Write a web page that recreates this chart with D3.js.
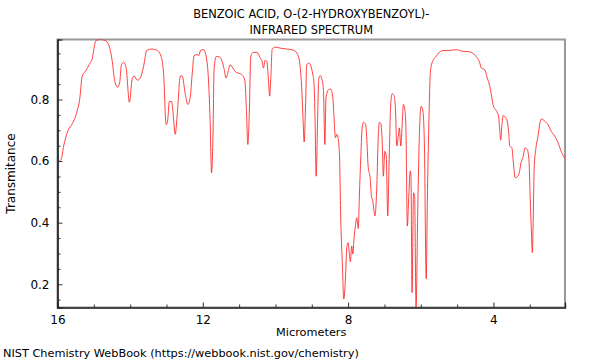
<!DOCTYPE html>
<html>
<head>
<meta charset="utf-8">
<script src="https://cdn.jsdelivr.net/npm/d3@7"></script>
<style>
  body { margin: 0; background: #fff; }
  svg { display: block; font-family: "DejaVu Sans", sans-serif; }
</style>
</head>
<body>
<div id="chart"></div>
<script>
// spectrum: wavelength (micrometers) and transmittance
const wavelength = [
  16.00, 15.90, 15.83, 15.72, 15.59, 15.46, 15.39, 15.32, 15.23, 15.13, 15.04, 15.01, 14.94, 14.82, 14.69,
  14.59, 14.50, 14.43, 14.35, 14.29, 14.24, 14.18, 14.11, 14.02, 13.94, 13.89, 13.80, 13.72, 13.63, 13.54,
  13.40, 13.26, 13.15, 13.08, 13.01, 12.97, 12.92, 12.86, 12.82, 12.76, 12.70, 12.62, 12.57, 12.48, 12.41,
  12.35, 12.29, 12.24, 12.15, 12.11, 12.06, 11.98, 11.93, 11.85, 11.80, 11.76, 11.72, 11.69, 11.63, 11.54,
  11.47, 11.41, 11.36, 11.30, 11.25, 11.17, 11.08, 10.97, 10.90, 10.84, 10.80, 10.76, 10.72, 10.68, 10.61,
  10.51, 10.42, 10.37, 10.33, 10.29, 10.24, 10.20, 10.16, 10.13, 10.09, 10.01, 9.87, 9.69, 9.50, 9.41,
  9.34, 9.28, 9.24, 9.21, 9.17, 9.14, 9.08, 9.03, 8.97, 8.94, 8.91, 8.88, 8.84, 8.81, 8.77,
  8.72, 8.68, 8.64, 8.61, 8.54, 8.48, 8.42, 8.39, 8.35, 8.31, 8.28, 8.24, 8.20, 8.16, 8.12,
  8.07, 8.04, 8.00, 7.96, 7.94, 7.90, 7.87, 7.84, 7.80, 7.76, 7.72, 7.69, 7.65, 7.61, 7.58,
  7.52, 7.49, 7.45, 7.39, 7.36, 7.32, 7.28, 7.26, 7.21, 7.17, 7.14, 7.10, 7.06, 7.03, 6.99,
  6.95, 6.91, 6.87, 6.83, 6.79, 6.73, 6.70, 6.66, 6.62, 6.59, 6.55, 6.51, 6.48, 6.44, 6.41,
  6.37, 6.33, 6.29, 6.27, 6.24, 6.20, 6.17, 6.13, 6.08, 6.04, 5.99, 5.94, 5.90, 5.85, 5.82,
  5.78, 5.73, 5.65, 5.58, 5.49, 5.39, 5.28, 5.01, 4.87, 4.73, 4.60, 4.48, 4.39, 4.33, 4.24,
  4.17, 4.10, 4.05, 4.00, 3.93, 3.86, 3.83, 3.80, 3.77, 3.73, 3.68, 3.62, 3.58, 3.55, 3.49,
  3.46, 3.40, 3.33, 3.29, 3.24, 3.18, 3.13, 3.07, 3.02, 2.99, 2.95, 2.93, 2.90, 2.88, 2.83,
  2.78, 2.72, 2.68, 2.59, 2.50, 2.41, 2.31, 2.22, 2.12, 2.02
];
const transmittance = [
  0.597, 0.605, 0.649, 0.697, 0.722, 0.762, 0.800, 0.876, 0.892, 0.913, 0.935, 0.956, 0.992, 0.995, 0.992,
  0.978, 0.930, 0.865, 0.840, 0.854, 0.913, 0.921, 0.902, 0.791, 0.870, 0.876, 0.863, 0.870, 0.908, 0.960,
  0.964, 0.960, 0.940, 0.886, 0.719, 0.730, 0.794, 0.794, 0.757, 0.687, 0.757, 0.876, 0.877, 0.816, 0.784,
  0.805, 0.886, 0.943, 0.946, 0.943, 0.960, 0.962, 0.951, 0.876, 0.735, 0.562, 0.681, 0.897, 0.940, 0.938,
  0.924, 0.897, 0.870, 0.892, 0.913, 0.902, 0.888, 0.884, 0.878, 0.859, 0.768, 0.654, 0.757, 0.940, 0.953,
  0.953, 0.935, 0.924, 0.902, 0.927, 0.924, 0.876, 0.811, 0.865, 0.964, 0.970, 0.967, 0.964, 0.960, 0.951,
  0.924, 0.843, 0.735, 0.662, 0.789, 0.913, 0.919, 0.910, 0.880, 0.854, 0.735, 0.551, 0.735, 0.865, 0.878,
  0.865, 0.832, 0.654, 0.805, 0.832, 0.834, 0.805, 0.746, 0.676, 0.687, 0.676, 0.627, 0.400, 0.270, 0.152,
  0.227, 0.314, 0.335, 0.292, 0.273, 0.324, 0.298, 0.346, 0.389, 0.416, 0.381, 0.487, 0.616, 0.713, 0.726,
  0.719, 0.681, 0.584, 0.541, 0.487, 0.470, 0.432, 0.422, 0.519, 0.681, 0.726, 0.722, 0.659, 0.551, 0.632,
  0.616, 0.422, 0.606, 0.778, 0.819, 0.811, 0.778, 0.649, 0.681, 0.708, 0.649, 0.724, 0.784, 0.768, 0.713,
  0.389, 0.487, 0.568, 0.551, 0.173, 0.497, 0.487, 0.125, 0.465, 0.681, 0.778, 0.762, 0.649, 0.218, 0.465,
  0.713, 0.897, 0.930, 0.940, 0.953, 0.959, 0.959, 0.962, 0.957, 0.956, 0.953, 0.940, 0.924, 0.902, 0.897,
  0.870, 0.843, 0.811, 0.778, 0.765, 0.746, 0.708, 0.668, 0.713, 0.748, 0.744, 0.730, 0.692, 0.649, 0.643,
  0.606, 0.546, 0.551, 0.562, 0.595, 0.616, 0.643, 0.638, 0.600, 0.487, 0.357, 0.303, 0.443, 0.573, 0.643,
  0.676, 0.724, 0.737, 0.730, 0.719, 0.697, 0.681, 0.659, 0.627, 0.607
];
const xTicks = [16, 12, 8, 4];
const yTicks = [0.2, 0.4, 0.6, 0.8];
const titleLines = ['BENZOIC ACID, O-(2-HYDROXYBENZOYL)-', 'INFRARED SPECTRUM'];

const width = 600, height = 360;
const margin = { top: 39.5, right: 35, bottom: 52.5, left: 57.5 };
const plotW = width - margin.left - margin.right;
const plotH = height - margin.top - margin.bottom;

const points = wavelength.map((w, i) => ({ w, t: transmittance[i] }));

const svg = d3.select('#chart').append('svg')
  .attr('width', width)
  .attr('height', height);

const x = d3.scaleLinear().domain([16, 2.03]).range([0, plotW]);
const y = d3.scaleLinear().domain([0.1245, 0.995]).range([plotH, 0]);

// title
svg.append('g').selectAll('text')
  .data(titleLines)
  .enter().append('text')
  .attr('x', margin.left + plotW / 2)
  .attr('y', (d, i) => 18 + i * 16)
  .attr('text-anchor', 'middle')
  .style('font-size', '11.4px')
  .text(d => d);

const g = svg.append('g')
  .attr('transform', `translate(${margin.left},${margin.top})`);

g.append('clipPath').attr('id', 'clip')
  .append('rect').attr('width', plotW).attr('height', plotH);

// frame: grey on top / right
g.append('rect')
  .attr('width', plotW).attr('height', plotH)
  .attr('fill', 'none')
  .attr('stroke', '#999')
  .attr('stroke-width', 2);

const line = d3.line()
  .x(d => x(d.w))
  .y(d => y(d.t))
  .curve(d3.curveMonotoneX);

g.append('path')
  .datum(points)
  .attr('clip-path', 'url(#clip)')
  .attr('fill', 'none')
  .attr('stroke', '#ff2020')
  .attr('stroke-width', 0.85)
  .attr('d', line);

// axes, ticks pointing inward
const xMinor = d3.range(15, 2, -1).filter(v => !xTicks.includes(v));
const xAxis = g.append('g').attr('transform', `translate(0,${plotH})`);
xAxis.call(d3.axisBottom(x).tickValues(xMinor).tickSize(-3).tickFormat(''));
xAxis.append('g').call(d3.axisBottom(x).tickValues(xTicks).tickSize(-5).tickPadding(8).tickFormat(d3.format('d')));

const yMinor = d3.range(0.15, 0.99, 0.05).filter(v => !yTicks.some(t => Math.abs(t - v) < 1e-6));
const yAxis = g.append('g');
yAxis.call(d3.axisLeft(y).tickValues(yMinor).tickSize(-3).tickFormat(''));
yAxis.append('g').call(d3.axisLeft(y).tickValues(yTicks).tickSize(-5).tickPadding(8).tickFormat(d3.format('.1f')));

g.selectAll('.domain').attr('stroke', '#222').attr('stroke-width', 1.2);
g.selectAll('.tick line').attr('stroke', '#333');
g.selectAll('.tick text')
  .attr('fill', '#000')
  .style('font-size', '12px')
  .style('font-family', '"DejaVu Sans", sans-serif');

// axis titles
svg.append('text')
  .attr('x', margin.left + plotW / 2)
  .attr('y', 336)
  .attr('text-anchor', 'middle')
  .style('font-size', '11.3px')
  .text('Micrometers');

svg.append('text')
  .attr('transform', `translate(15,${margin.top + plotH / 2}) rotate(-90)`)
  .attr('text-anchor', 'middle')
  .style('font-size', '12px')
  .text('Transmitance');

svg.append('text')
  .attr('x', 3)
  .attr('y', 357)
  .style('font-size', '11.3px')
  .text('NIST Chemistry WebBook (https://webbook.nist.gov/chemistry)');
</script>
</body>
</html>
